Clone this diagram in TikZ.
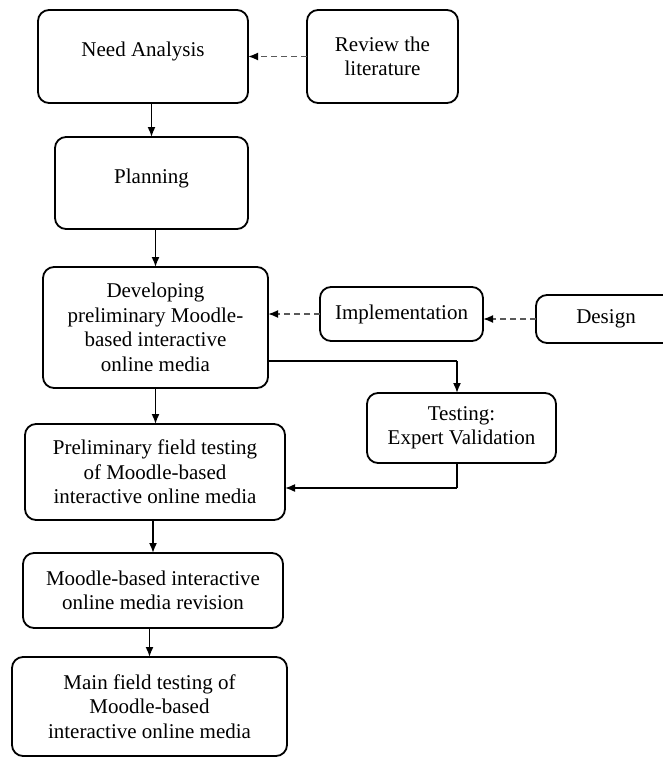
\documentclass[tikz,border=0pt]{standalone}
\usepackage{fontspec}
\setmainfont{Liberation Serif}
\usetikzlibrary{arrows.meta}
\begin{document}
\begin{tikzpicture}[x=1pt,y=-1pt,
  box/.style={draw=black, line width=1.8pt, rounded corners=11pt, inner sep=0pt, outer sep=0pt,
    align=center, font=\fontsize{21}{24.5}\selectfont},
  uptext/.style={text depth=14pt},
  flow/.style={draw=black, line width=1.6pt, -{Latex[length=10pt,width=8pt]}},
  plain/.style={draw=black, line width=1.6pt},
  dasharrow/.style={draw=black!65, line width=1.8pt, dash pattern=on 6pt off 4pt, -{Latex[length=10pt,width=8pt,black]}}
]
\useasboundingbox (0,0) rectangle (663,758);
\clip (0,0) rectangle (663,758);

\node[box, uptext, minimum width=210pt, minimum height=93pt] (need) at (143,56.5) {Need Analysis};
\node[box, minimum width=151pt, minimum height=93pt] (rev) at (382.5,56.5) {Review the\\literature};
\node[box, uptext, minimum width=193pt, minimum height=92pt] (plan) at (151.5,183) {Planning};
\node[box, minimum width=225pt, minimum height=121pt] (dev) at (155.5,327.5) {Developing\\preliminary Moodle-\\based interactive\\online media};
\node[box, minimum width=163pt, minimum height=54pt] (impl) at (401.5,314) {Implementation};
\node[box, minimum width=140pt, minimum height=48pt] (design) at (606,319) {Design};
\node[box, minimum width=189pt, minimum height=70pt] (test) at (461.5,428) {Testing:\\Expert Validation};
\node[box, minimum width=260pt, minimum height=96pt] (prelim) at (155,472) {Preliminary field testing\\of Moodle-based\\interactive online media};
\node[box, minimum width=260pt, minimum height=75pt] (revn) at (153,590.5) {Moodle-based interactive\\online media revision};
\node[box, minimum width=275pt, minimum height=99pt] (main) at (149.5,706.5) {Main field testing of\\Moodle-based\\interactive online media};

\coordinate (c1) at (457,361);
\coordinate (c2) at (457,488);

\draw[dasharrow] (rev) -- (need);
\draw[flow] (need.south -| plan.north) -- (plan.north);
\draw[flow] (plan.south -| dev.north) -- (dev.north);
\draw[dasharrow] (impl.west) -- (impl.west -| dev.east);
\draw[dasharrow] (design.west) -- (design.west -| impl.east);
\draw[plain] (dev.east |- c1) -- (c1);
\draw[flow] (c1) -- (c1 |- test.north);
\draw[plain] (c2 |- test.south) -- (c2);
\draw[flow] (c2) -- (c2 -| prelim.east);
\draw[flow] (dev.south) -- (dev.south |- prelim.north);
\draw[flow] (revn.north |- prelim.south) -- (revn.north);
\draw[flow] (main.north |- revn.south) -- (main.north);
\end{tikzpicture}
\end{document}
